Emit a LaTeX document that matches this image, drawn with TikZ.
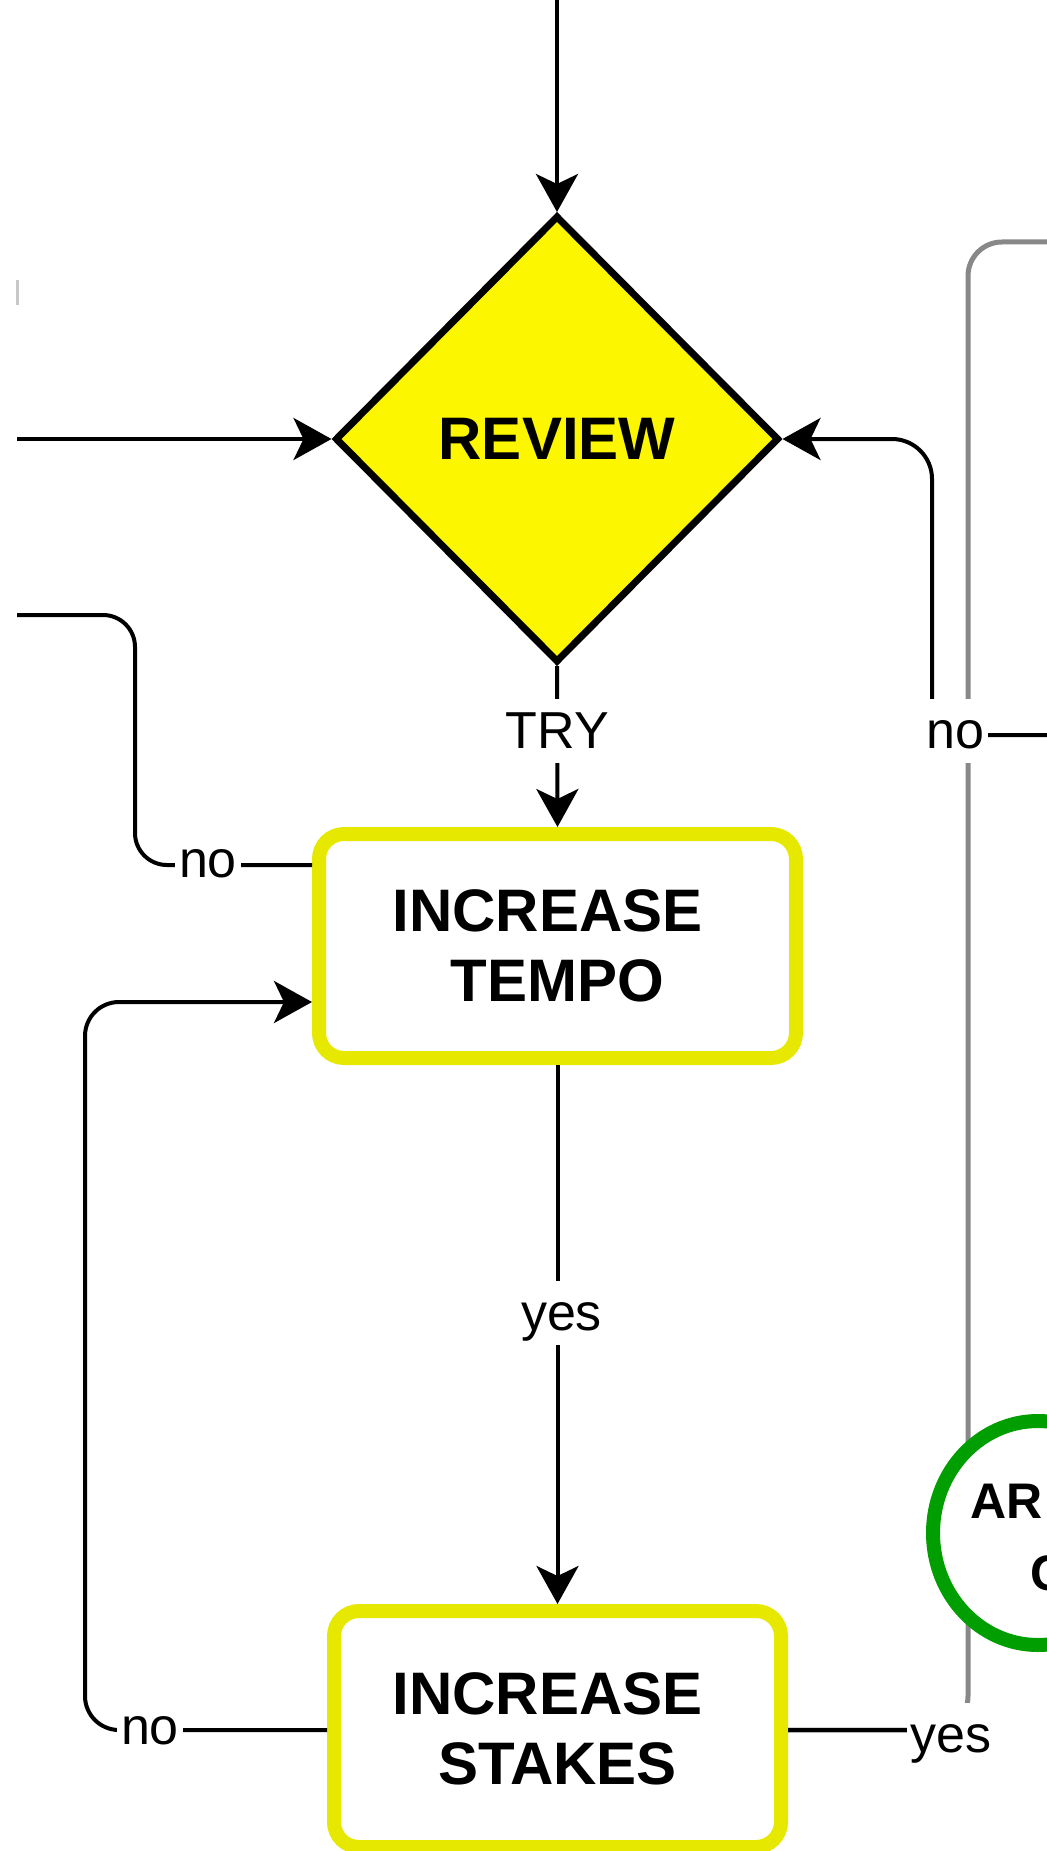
\documentclass[tikz,border=0pt]{standalone}
\usepackage{fontspec}
\setmainfont{Liberation Sans}
\usetikzlibrary{shapes.geometric,arrows.meta}
\definecolor{dyellow}{RGB}{252,246,0}
\definecolor{byellow}{RGB}{230,232,0}
\definecolor{egreen}{RGB}{0,158,0}
\definecolor{lgray}{RGB}{136,136,136}
\definecolor{fgray}{RGB}{200,200,200}
\begin{document}
\begin{tikzpicture}[x=0.5pt,y=-0.5pt,
  arr/.style={line width=2pt, -{Stealth[length=19pt,width=21pt,inset=5pt]}},
  conn/.style={line width=2pt},
  grayconn/.style={line width=2.5pt, draw=lgray},
  boxtext/.style={font=\fontsize{30pt}{35pt}\selectfont\bfseries, align=center},
  yellowbox/.style={rectangle, draw=byellow, line width=7pt, rounded corners=12.5pt, fill=white, boxtext, inner sep=0pt},
  decision/.style={diamond, draw=black, line width=3.5pt, fill=dyellow, inner sep=0pt, boxtext},
  goalshape/.style={ellipse, draw=egreen, line width=7pt, fill=white, inner sep=0pt},
  goaltext/.style={font=\fontsize{25pt}{30pt}\selectfont\bfseries, anchor=base west, inner sep=0pt},
  lbl/.style={fill=white, font=\fontsize{26pt}{30pt}\selectfont, inner xsep=2pt, inner ysep=0pt, text height=24.5pt, text depth=7.5pt},
]
\useasboundingbox (0,0) rectangle (1047,1851);
\clip (0,0) rectangle (1047,1851);

% nodes
\node[decision, minimum width=222pt, minimum height=223.5pt] (review) at (557,439) {REVIEW};
\node[yellowbox, minimum width=238.5pt, minimum height=112pt] (tempo) at (557.5,946) {INCREASE\hspace*{10pt}\\TEMPO};
\node[yellowbox, minimum width=223.5pt, minimum height=118pt] (stakes) at (557.5,1729) {INCREASE\hspace*{10pt}\\STAKES};

% free ends
\coordinate (topin) at (557,-20);
\coordinate (leftin) at (17,439);
\coordinate (leftno) at (17,615);
\coordinate (rightin) at (1070,735);
\coordinate (rightout) at (1070,242);

% small fragment at the left edge
\draw[draw=fgray, line width=1.5pt] (17,280) -- (17,305);

% connectors
\draw[arr] (topin) -- (review.north);
\draw[arr] (leftin) -- (review.west);
\draw[arr] (review.south) -- (tempo.north) node[lbl, pos=0.51, anchor=base] (try) {TRY};
\draw[arr] (tempo.south) -- (stakes.north) node[lbl, pos=0.492, anchor=base, xshift=2pt] (yesM) {yes};
\draw[arr, rounded corners=20pt] (rightin) -- (932,735) -- (932,439) -- (review.east);
\draw[conn, rounded corners=16pt] (leftno) -- (135,615) -- (135,865) -- (tempo.west |- 0,865);
\draw[arr, rounded corners=17pt] (stakes.west |- 0,1730) -- (85,1730) -- (85,1002) -- (tempo.west |- 0,1002);
\draw[grayconn, rounded corners=17pt] (stakes.east |- 0,1730) -- (968,1730) -- (968,242) -- (rightout);
\draw[conn] (stakes.east |- 0,1730) -- (940,1730);

% partly visible goal ellipse
\node[goalshape, minimum width=105pt, minimum height=112pt] (goal) at (1038,1533) {};
\node[goaltext] (goalA) at (970,1518) {AR};
\node[goaltext] (goalB) at (1030,1590) {C};

% edge labels
\node[lbl, anchor=base] (noR) at (955,748) {no};
\node[lbl, anchor=base] (noL) at (208,877) {no};
\node[lbl, anchor=base] (noB) at (150,1744) {no};
\node[lbl, anchor=base] (yesR) at (951,1752) {yes};
\end{tikzpicture}
\end{document}
